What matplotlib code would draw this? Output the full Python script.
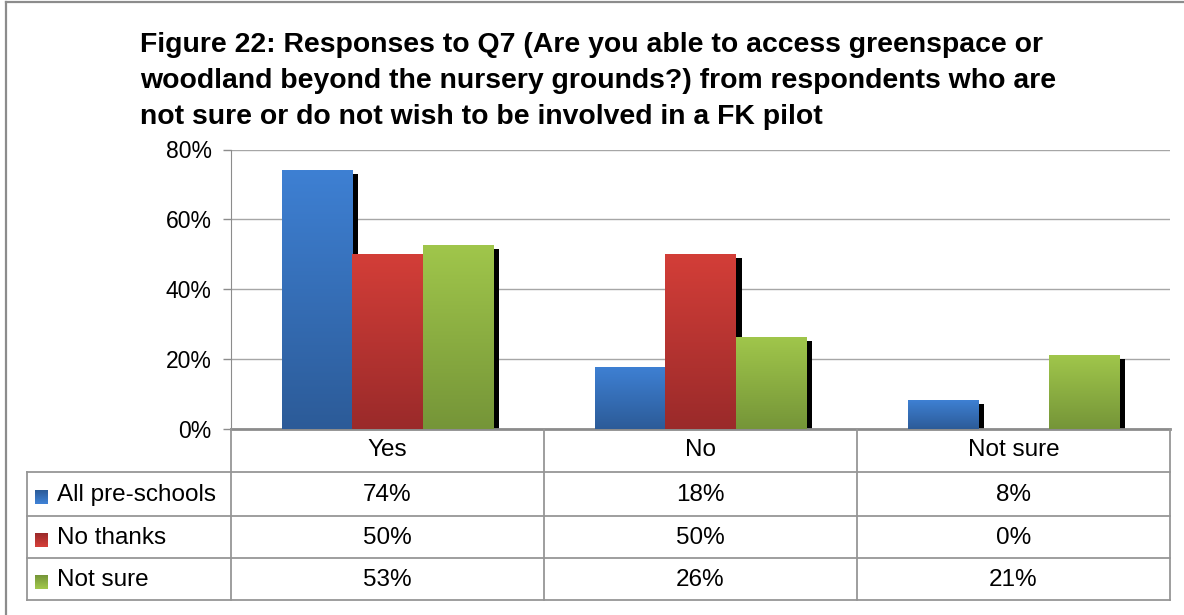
import numpy as np
import matplotlib
matplotlib.use("Agg")
import matplotlib.pyplot as plt
from matplotlib import transforms
from matplotlib.colors import LinearSegmentedColormap
from matplotlib.patches import Rectangle
from matplotlib.lines import Line2D

plt.rcParams['font.family'] = ['Liberation Sans', 'DejaVu Sans']

# ---------------- data ----------------
title = ("Figure 22: Responses to Q7 (Are you able to access greenspace or\n"
         "woodland beyond the nursery grounds?) from respondents who are\n"
         "not sure or do not wish to be involved in a FK pilot")
categories = ["Yes", "No", "Not sure"]
series_names = ["All pre-schools", "No thanks", "Not sure"]
all_preschools = [74.1, 17.5, 8.3]
no_thanks = [50.0, 50.0, 0.0]
not_sure = [52.6, 26.1, 21.0]
series_values = [all_preschools, no_thanks, not_sure]
yticks = [0, 20, 40, 60, 80]
ytick_labels = ["0%", "20%", "40%", "60%", "80%"]

# gradient colours (top, bottom)
grad_colors = [("#3E80D3", "#2C5B98"),
               ("#D33E38", "#9A2A2A"),
               ("#A0C64B", "#759538")]

W, H = 1184, 615
fig = plt.figure(figsize=(W / 100, H / 100), dpi=100)

def fx(px):
    return px / W

def fy(py):
    return 1 - py / H

# frame (top and left visible)
fig.add_artist(Line2D([fx(6), fx(W)], [fy(2), fy(2)], color="#8c8c8c", lw=1.6))
fig.add_artist(Line2D([fx(6), fx(6)], [fy(2), fy(H)], color="#8c8c8c", lw=1.6))

# main axes
ax_l, ax_r, ax_t, ax_b = 231, 1170, 149.5, 428.5
ax = fig.add_axes([fx(ax_l), fy(ax_b), fx(ax_r - ax_l), (ax_b - ax_t) / H])
ax.set_xlim(-0.5, len(categories) - 0.5)
ax.set_ylim(0, 80)
ax.set_yticks(yticks)
ax.set_yticklabels(ytick_labels, fontsize=16.5)
ax.set_xticks([])
ax.tick_params(axis='y', direction='out', length=6, width=1, color="#8c8c8c", pad=8)
for s in ["top", "right"]:
    ax.spines[s].set_visible(False)
ax.spines["left"].set_color("#8c8c8c")
ax.spines["bottom"].set_color("#8c8c8c")
ax.spines["bottom"].set_linewidth(2)
ax.yaxis.grid(True, color="#a6a6a6", lw=1)
ax.set_axisbelow(True)

nser = len(series_values)
bw = 0.224
x = np.arange(len(categories))
shadow_tr = transforms.offset_copy(ax.transData, fig=fig, x=6, y=-4, units='dots')

# shadows
for i, vals in enumerate(series_values):
    xs = x + (i - (nser - 1) / 2) * bw
    ax.bar(xs, vals, width=bw, color="black", transform=shadow_tr, zorder=2, lw=0)

# bars with gradient
for i, vals in enumerate(series_values):
    xs = x + (i - (nser - 1) / 2) * bw
    cmap = LinearSegmentedColormap.from_list("g%d" % i, [grad_colors[i][1], grad_colors[i][0]])
    bars = ax.bar(xs, vals, width=bw, color=grad_colors[i][0], zorder=3, lw=0)
    for b in bars:
        h = b.get_height()
        if h <= 0:
            continue
        x0 = b.get_x()
        grad = np.linspace(0, 1, 256).reshape(-1, 1)
        im = ax.imshow(grad, extent=(x0, x0 + b.get_width(), 0, h), origin="lower",
                       aspect="auto", cmap=cmap, zorder=4, interpolation="bilinear")
        im.set_clip_path(b)
ax.set_xlim(-0.5, len(categories) - 0.5)
ax.set_ylim(0, 80)

# ---------------- data table ----------------
row_edges = [429, 472, 516, 558, 600]
tab_left = 27
tax = fig.add_axes([fx(ax_l), fy(row_edges[-1]), fx(ax_r - ax_l), (row_edges[-1] - row_edges[0]) / H])
tax.set_xlim(-0.5, len(categories) - 0.5)
tax.set_ylim(row_edges[-1], row_edges[0])
tax.axis("off")
cat_w_px = (ax_r - ax_l) / len(categories)
x_left = -0.5 - (ax_l - tab_left) / cat_w_px
lc = "#969696"
# vertical lines
tax.plot([-0.5, -0.5], [row_edges[0], row_edges[-1]], color=lc, lw=1.3, clip_on=False)
for k in range(1, len(categories) + 1):
    tax.plot([k - 0.5, k - 0.5], [row_edges[0], row_edges[-1]], color=lc, lw=1.3, clip_on=False)
tax.plot([x_left, x_left], [row_edges[1], row_edges[-1]], color=lc, lw=1.3, clip_on=False)
# horizontal lines
for j, ye in enumerate(row_edges[1:]):
    tax.plot([x_left, len(categories) - 0.5], [ye, ye], color=lc, lw=1.3, clip_on=False)

fs = 17.5
for c, cat in enumerate(categories):
    tax.text(c, (row_edges[0] + row_edges[1]) / 2, cat, ha="center", va="center", fontsize=fs)
for i, (name, vals) in enumerate(zip(series_names, series_values)):
    yc = (row_edges[i + 1] + row_edges[i + 2]) / 2 + 1
    for c, v in enumerate(vals):
        tax.text(c, yc, "%d%%" % round(v), ha="center", va="center", fontsize=fs)
    # legend key
    kx0 = x_left + 8 / cat_w_px
    kw = 13 / cat_w_px
    cmap = LinearSegmentedColormap.from_list("k%d" % i, [grad_colors[i][1], grad_colors[i][0]])
    key = Rectangle((kx0, yc - 6.5 + 2), kw, 13, lw=0, color=grad_colors[i][0], clip_on=False)
    tax.add_patch(key)
    grad = np.linspace(0, 1, 64).reshape(-1, 1)
    im = tax.imshow(grad, extent=(kx0, kx0 + kw, yc + 8.5, yc - 4.5), origin="upper",
                    aspect="auto", cmap=cmap, zorder=4, clip_on=False)
    im.set_clip_path(key)
    tax.text(x_left + 30 / cat_w_px, yc, name, ha="left", va="center", fontsize=fs)
tax.set_xlim(-0.5, len(categories) - 0.5)
tax.set_ylim(row_edges[-1], row_edges[0])

# title
fig.text(fx(140), fy(32), title, ha="left", va="top", fontsize=20.4, fontweight="bold",
         linespacing=1.5)

fig.savefig("out.png", dpi=100)
